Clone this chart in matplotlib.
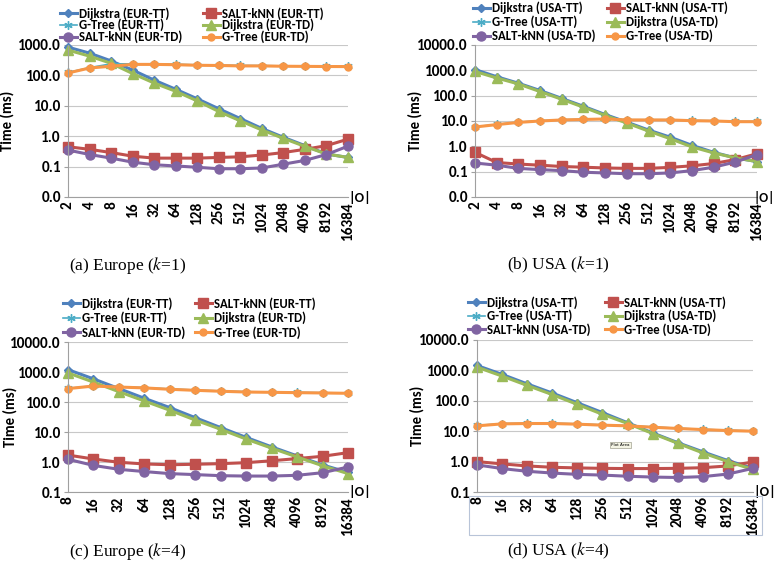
import numpy as np
import matplotlib
matplotlib.use('Agg')
import matplotlib.pyplot as plt
from matplotlib.patches import Rectangle

plt.rcParams['mathtext.fontset'] = 'stix'

W, H = 775, 574

# x categories (|O|)
x_k1 = ['2', '4', '8', '16', '32', '64', '128', '256', '512', '1024', '2048', '4096', '8192', '16384']
x_k4 = ['8', '16', '32', '64', '128', '256', '512', '1024', '2048', '4096', '8192', '16384']

# (a) Europe k=1
a_dij_tt = [850, 540, 300, 150, 70, 35, 17, 8.0, 3.8, 1.8, 0.92, 0.49, 0.26, 0.20]
a_salt_tt = [0.45, 0.37, 0.29, 0.22, 0.19, 0.19, 0.19, 0.20, 0.21, 0.24, 0.29, 0.37, 0.49, 0.80]
a_gt_tt = [125, 180, 240, 240, 238, 232, 222, 218, 212, 210, 205, 203, 200, 198]
a_dij_td = [680, 430, 250, 115, 56, 30, 14.5, 6.5, 3.2, 1.6, 0.85, 0.46, 0.26, 0.20]
a_salt_td = [0.35, 0.25, 0.19, 0.14, 0.115, 0.105, 0.095, 0.085, 0.085, 0.09, 0.12, 0.16, 0.25, 0.47]
a_gt_td = [120, 175, 200, 230, 230, 225, 215, 212, 205, 205, 200, 198, 196, 195]

# (b) USA k=1
b_dij_tt = [1070, 560, 310, 160, 78, 38, 18, 9.0, 4.4, 2.3, 1.1, 0.58, 0.35, 0.25]
b_salt_tt = [0.58, 0.23, 0.20, 0.18, 0.16, 0.15, 0.14, 0.135, 0.135, 0.148, 0.17, 0.21, 0.30, 0.51]
b_gt_tt = [5.9, 7.3, 9.0, 10.2, 11.2, 11.7, 12.2, 11.2, 11.2, 11.2, 10.5, 10.2, 9.6, 9.6]
b_dij_td = [900, 500, 290, 145, 72, 35, 16.6, 8.3, 4.0, 2.0, 0.95, 0.55, 0.35, 0.25]
b_salt_td = [0.22, 0.18, 0.135, 0.12, 0.11, 0.095, 0.089, 0.083, 0.083, 0.089, 0.11, 0.15, 0.24, 0.47]
b_gt_td = [5.8, 7.2, 8.8, 10.0, 11.0, 11.5, 12.0, 11.0, 11.0, 11.0, 10.3, 10.0, 9.4, 9.4]

# (c) Europe k=4
c_dij_tt = [1200, 590, 280, 133, 65, 30, 14, 6.6, 3.2, 1.6, 0.8, 0.45]
c_salt_tt = [1.7, 1.26, 0.98, 0.86, 0.81, 0.84, 0.88, 0.95, 1.1, 1.3, 1.55, 2.05]
c_gt_tt = [285, 345, 322, 302, 272, 250, 233, 220, 214, 209, 204, 199]
c_dij_td = [930, 460, 220, 108, 53, 25, 12.3, 5.8, 2.9, 1.47, 0.75, 0.41]
c_salt_td = [1.23, 0.77, 0.57, 0.48, 0.41, 0.38, 0.35, 0.34, 0.34, 0.36, 0.44, 0.68]
c_gt_td = [280, 340, 315, 295, 265, 245, 228, 215, 210, 205, 200, 195]

# (d) USA k=4
d_dij_tt = [1450, 740, 360, 180, 86, 41, 19, 8.8, 4.2, 2.1, 1.08, 0.60]
d_salt_tt = [1.0, 0.84, 0.72, 0.65, 0.62, 0.60, 0.59, 0.59, 0.60, 0.63, 0.72, 0.97]
d_gt_tt = [15.4, 17.8, 18.3, 18.3, 17.4, 16.1, 15.3, 13.8, 12.5, 11.5, 10.7, 10.2]
d_dij_td = [1280, 650, 320, 160, 76, 36, 18, 8.4, 4.0, 1.93, 1.0, 0.55]
d_salt_td = [0.78, 0.59, 0.48, 0.42, 0.38, 0.36, 0.33, 0.31, 0.30, 0.32, 0.39, 0.60]
d_gt_td = [15, 17.4, 17.9, 17.9, 17, 15.8, 15, 13.5, 12.3, 11.3, 10.5, 10]

ytick_k1a = [0.01, 0.1, 1, 10, 100, 1000]
ytick_k1b = [0.01, 0.1, 1, 10, 100, 1000, 10000]
ytick_k4 = [0.1, 1, 10, 100, 1000, 10000]

captions = ['(a) Europe ($k$=1)', '(b) USA ($k$=1)', '(c) Europe ($k$=4)', '(d) USA ($k$=4)']

SANS = 'Carlito'
fig = plt.figure(figsize=(W / 100, H / 100), dpi=100)


def make_ax(l, r, t, b):
    return fig.add_axes([l / W, 1 - b / H, (r - l) / W, (b - t) / H])


def draw(ax, xl, series, region, yt, leg):
    x = np.arange(len(xl))
    dij_tt, salt_tt, gt_tt, dij_td, salt_td, gt_td = series
    h1, = ax.plot(x, dij_tt, color='#4F81BD', marker='D', ms=4.5, lw=2.2, label='Dijkstra (%s-TT)' % region)
    h2, = ax.plot(x, salt_tt, color='#C0504D', marker='s', ms=6.5, lw=2.2, label='SALT-kNN (%s-TT)' % region)
    h3, = ax.plot(x, gt_tt, color='#4BACC6', marker=(6, 2, 0), ms=6, mew=1, lw=1.2, label='G-Tree (%s-TT)' % region)
    h4, = ax.plot(x, dij_td, color='#9BBB59', marker='^', ms=7, lw=2.2, label='Dijkstra (%s-TD)' % region)
    h5, = ax.plot(x, salt_td, color='#8064A2', marker='o', ms=6.5, lw=2.2, label='SALT-kNN (%s-TD)' % region)
    h6, = ax.plot(x, gt_td, color='#F79646', marker='o', ms=5, lw=2.2, label='G-Tree (%s-TD)' % region)
    ax.set_yscale('log')
    ax.set_ylim(yt[0], yt[-1])
    ax.set_xlim(0, len(xl) - 1)
    ax.set_yticks(yt)
    ax.set_yticklabels(['%.1f' % v for v in yt], fontsize=11, fontweight='bold', family=SANS)
    ax.minorticks_off()
    ax.set_xticks(x)
    ax.set_xticklabels(xl, rotation=90, fontsize=11, fontweight='bold', family=SANS)
    ax.tick_params(axis='x', length=0, pad=3)
    ax.tick_params(axis='y', length=3, color='#A0A0A0', pad=2)
    ax.grid(axis='y', color='#C8C8C8', lw=0.8)
    ax.set_axisbelow(True)
    for s in ['top', 'right']:
        ax.spines[s].set_visible(False)
    for s in ['left', 'bottom']:
        ax.spines[s].set_color('#A0A0A0')
    for h in [h1, h2, h3, h4, h5, h6]:
        h.set_clip_on(False)
    ax.set_ylabel('Time (ms)', fontsize=10.5, fontweight='bold', family=SANS)
    ax.yaxis.set_label_coords(leg['ylab'], 0.5)
    ax.annotate('|O|', xy=(1.0, 0.0), xycoords='axes fraction', xytext=(leg['ox'], 0),
                textcoords='offset pixels', fontsize=leg['ofs'], fontweight='bold',
                family=SANS, ha='left', va='center')
    x1, x2, ymid, sp = leg['x1'], leg['x2'], leg['ymid'], leg['sp']
    kw = dict(loc='center left', frameon=False, handlelength=1.3, handletextpad=0.15,
              labelspacing=sp, borderaxespad=0, borderpad=0,
              prop={'weight': 'bold', 'size': 9.2, 'family': SANS},
              bbox_transform=fig.transFigure)
    l1 = ax.legend([h1, h3, h5], [h.get_label() for h in [h1, h3, h5]],
                   bbox_to_anchor=(x1 / W, 1 - ymid / H), **kw)
    ax.add_artist(l1)
    ax.legend([h2, h4, h6], [h.get_label() for h in [h2, h4, h6]],
              bbox_to_anchor=(x2 / W, 1 - ymid / H), **kw)


ax_a = make_ax(68, 348, 45, 197)
draw(ax_a, x_k1, [a_dij_tt, a_salt_tt, a_gt_tt, a_dij_td, a_salt_td, a_gt_td], 'EUR', ytick_k1a,
     dict(x1=60, x2=203, ymid=25, sp=-0.07, ylab=-0.19, ox=0, ofs=10))
ax_b = make_ax(475, 757, 45, 197)
draw(ax_b, x_k1, [b_dij_tt, b_salt_tt, b_gt_tt, b_dij_td, b_salt_td, b_gt_td], 'USA', ytick_k1b,
     dict(x1=473, x2=607, ymid=22, sp=0.09, ylab=-0.185, ox=-3, ofs=9.5))
ax_c = make_ax(68, 348, 342, 492)
draw(ax_c, x_k4, [c_dij_tt, c_salt_tt, c_gt_tt, c_dij_td, c_salt_td, c_gt_td], 'EUR', ytick_k4,
     dict(x1=63, x2=195, ymid=318, sp=0.14, ylab=-0.18, ox=0, ofs=10))
ax_d = make_ax(477, 753, 340, 492)
draw(ax_d, x_k4, [d_dij_tt, d_salt_tt, d_gt_tt, d_dij_td, d_salt_td, d_gt_td], 'USA', ytick_k4,
     dict(x1=468, x2=605, ymid=316, sp=0.05, ylab=-0.19, ox=0, ofs=10))

# frame around the category axis of (d)
fig.patches.append(Rectangle((469 / W, 1 - 535 / H), (762 - 469) / W, (535 - 496) / H,
                             transform=fig.transFigure, fill=False, ec='#B8C4D8', lw=0.8))
# small "Plot Area" tooltip in (d)
fig.text(620 / W, 1 - 445 / H, 'Plot Area', fontsize=3, ha='center', va='center',
         bbox=dict(boxstyle='square,pad=0.3', fc='#F4F4E4', ec='#A0A090', lw=0.5))

cap_pos = [(128, 265), (558, 265), (128, 551), (558, 551)]
for (cx, cy), cap in zip(cap_pos, captions):
    fig.text(cx / W, 1 - cy / H, cap, fontsize=12.5, family='Liberation Serif', ha='center', va='center')

plt.savefig('out.png', dpi=100)
